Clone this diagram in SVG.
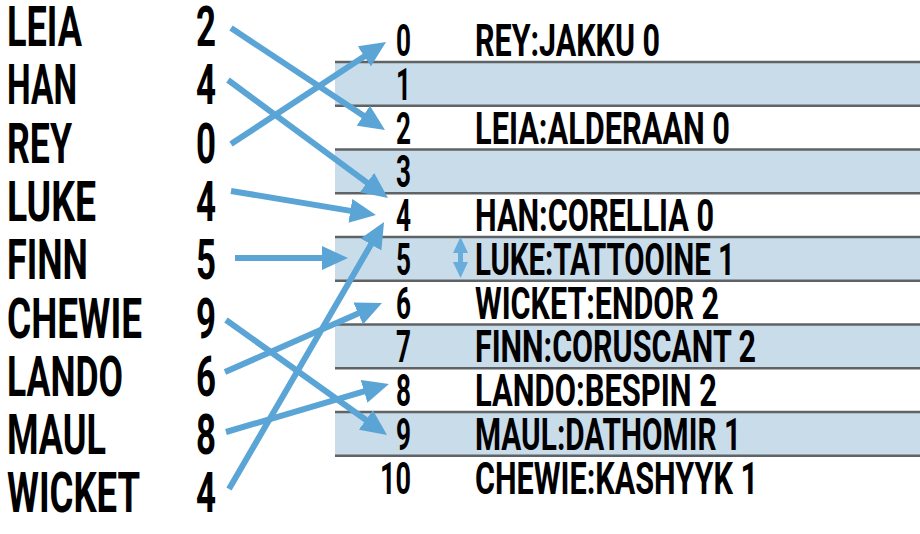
<svg xmlns="http://www.w3.org/2000/svg" width="920" height="534" viewBox="0 0 920 534">
<style>
text{font-family:"Roboto","Liberation Sans",sans-serif;font-weight:700;fill:#000}
.nm{font-size:55px}
.ix{font-size:44px}
.shade{fill:#c9dcea}
.rule{stroke:#606366;stroke-width:2.5}
.con{stroke:#5aa5d6;stroke-width:6;fill:none}
.ah{fill:#5aa5d6}
</style>
<defs>
<marker id="arr" viewBox="0 0 26 24" refX="8" refY="12" markerWidth="26" markerHeight="24" markerUnits="userSpaceOnUse" orient="auto">
<path d="M0,0 L26,12 L0,24 Z" class="ah"/>
</marker>
</defs>
<rect width="920" height="534" fill="#fff"/>

<g id="table">
<rect class="shade" x="335" y="62" width="585" height="43.75"/>
<rect class="shade" x="335" y="149.5" width="585" height="43.75"/>
<rect class="shade" x="335" y="237" width="585" height="43.75"/>
<rect class="shade" x="335" y="324.5" width="585" height="43.75"/>
<rect class="shade" x="335" y="412" width="585" height="43.75"/>
<line class="rule" x1="335" y1="62" x2="920" y2="62"/>
<line class="rule" x1="335" y1="105.75" x2="920" y2="105.75"/>
<line class="rule" x1="335" y1="149.5" x2="920" y2="149.5"/>
<line class="rule" x1="335" y1="193.25" x2="920" y2="193.25"/>
<line class="rule" x1="335" y1="237" x2="920" y2="237"/>
<line class="rule" x1="335" y1="280.75" x2="920" y2="280.75"/>
<line class="rule" x1="335" y1="324.5" x2="920" y2="324.5"/>
<line class="rule" x1="335" y1="368.25" x2="920" y2="368.25"/>
<line class="rule" x1="335" y1="412" x2="920" y2="412"/>
<line class="rule" x1="335" y1="455.75" x2="920" y2="455.75"/>
</g>

<g id="slot0"><text class="ix" x="396" y="56" textLength="15" lengthAdjust="spacingAndGlyphs">0</text><text class="ix" x="475" y="56" textLength="185" lengthAdjust="spacingAndGlyphs">REY:JAKKU 0</text></g>
<g id="slot1"><text class="ix" x="396" y="99.75" textLength="15" lengthAdjust="spacingAndGlyphs">1</text></g>
<g id="slot2"><text class="ix" x="396" y="143.5" textLength="15" lengthAdjust="spacingAndGlyphs">2</text><text class="ix" x="475" y="143.5" textLength="255" lengthAdjust="spacingAndGlyphs">LEIA:ALDERAAN 0</text></g>
<g id="slot3"><text class="ix" x="396" y="187.25" textLength="15" lengthAdjust="spacingAndGlyphs">3</text></g>
<g id="slot4"><text class="ix" x="396" y="231" textLength="15" lengthAdjust="spacingAndGlyphs">4</text><text class="ix" x="475" y="231" textLength="239" lengthAdjust="spacingAndGlyphs">HAN:CORELLIA 0</text></g>
<g id="slot5"><text class="ix" x="396" y="274.75" textLength="15" lengthAdjust="spacingAndGlyphs">5</text><text class="ix" x="475" y="274.75" textLength="260" lengthAdjust="spacingAndGlyphs">LUKE:TATTOOINE 1</text>
<path d="M460.5,237 L468,253 L463,253 L463,262 L468,262 L460.5,278 L453,262 L458,262 L458,253 L453,253 Z" fill="#5ea7da" opacity="0.9"/></g>
<g id="slot6"><text class="ix" x="396" y="318.5" textLength="15" lengthAdjust="spacingAndGlyphs">6</text><text class="ix" x="475" y="318.5" textLength="244" lengthAdjust="spacingAndGlyphs">WICKET:ENDOR 2</text></g>
<g id="slot7"><text class="ix" x="396" y="362.25" textLength="15" lengthAdjust="spacingAndGlyphs">7</text><text class="ix" x="475" y="362.25" textLength="281" lengthAdjust="spacingAndGlyphs">FINN:CORUSCANT 2</text></g>
<g id="slot8"><text class="ix" x="396" y="406" textLength="15" lengthAdjust="spacingAndGlyphs">8</text><text class="ix" x="475" y="406" textLength="242" lengthAdjust="spacingAndGlyphs">LANDO:BESPIN 2</text></g>
<g id="slot9"><text class="ix" x="396" y="449.75" textLength="15" lengthAdjust="spacingAndGlyphs">9</text><text class="ix" x="475" y="449.75" textLength="266" lengthAdjust="spacingAndGlyphs">MAUL:DATHOMIR 1</text></g>
<g id="slot10"><text class="ix" x="380" y="494" textLength="31" lengthAdjust="spacingAndGlyphs">10</text><text class="ix" x="475" y="494" textLength="283" lengthAdjust="spacingAndGlyphs">CHEWIE:KASHYYK 1</text></g>

<g id="leia"><text class="nm" x="7" y="46" textLength="75" lengthAdjust="spacingAndGlyphs">LEIA</text><text class="nm" x="196" y="46" textLength="20" lengthAdjust="spacingAndGlyphs">2</text></g>
<g id="han"><text class="nm" x="7" y="104.3" textLength="70" lengthAdjust="spacingAndGlyphs">HAN</text><text class="nm" x="196" y="104.3" textLength="20" lengthAdjust="spacingAndGlyphs">4</text></g>
<g id="rey"><text class="nm" x="7" y="162.6" textLength="65" lengthAdjust="spacingAndGlyphs">REY</text><text class="nm" x="196" y="162.6" textLength="20" lengthAdjust="spacingAndGlyphs">0</text></g>
<g id="luke"><text class="nm" x="7" y="220.9" textLength="89" lengthAdjust="spacingAndGlyphs">LUKE</text><text class="nm" x="196" y="220.9" textLength="20" lengthAdjust="spacingAndGlyphs">4</text></g>
<g id="finn"><text class="nm" x="7" y="279.2" textLength="81" lengthAdjust="spacingAndGlyphs">FINN</text><text class="nm" x="196" y="279.2" textLength="20" lengthAdjust="spacingAndGlyphs">5</text></g>
<g id="chewie"><text class="nm" x="7" y="337.5" textLength="135" lengthAdjust="spacingAndGlyphs">CHEWIE</text><text class="nm" x="196" y="337.5" textLength="20" lengthAdjust="spacingAndGlyphs">9</text></g>
<g id="lando"><text class="nm" x="7" y="395.8" textLength="116" lengthAdjust="spacingAndGlyphs">LANDO</text><text class="nm" x="196" y="395.8" textLength="20" lengthAdjust="spacingAndGlyphs">6</text></g>
<g id="maul"><text class="nm" x="7" y="454.1" textLength="99" lengthAdjust="spacingAndGlyphs">MAUL</text><text class="nm" x="196" y="454.1" textLength="20" lengthAdjust="spacingAndGlyphs">8</text></g>
<g id="wicket"><text class="nm" x="7" y="512.4" textLength="133" lengthAdjust="spacingAndGlyphs">WICKET</text><text class="nm" x="196" y="512.4" textLength="20" lengthAdjust="spacingAndGlyphs">4</text></g>

<g id="connectors">
<line class="con" marker-end="url(#arr)" x1="231" y1="28" x2="370" y2="120.1"/>
<line class="con" marker-end="url(#arr)" x1="228" y1="80" x2="373.5" y2="187.3"/>
<line class="con" marker-end="url(#arr)" x1="231" y1="144" x2="371" y2="51.9"/>
<line class="con" marker-end="url(#arr)" x1="231" y1="191" x2="358.2" y2="212.1"/>
<line class="con" marker-end="url(#arr)" x1="235" y1="258" x2="330" y2="258"/>
<line class="con" marker-end="url(#arr)" x1="229" y1="489" x2="375" y2="237.6"/>
<line class="con" marker-end="url(#arr)" x1="226" y1="320" x2="372.4" y2="424.5"/>
<line class="con" marker-end="url(#arr)" x1="225" y1="372" x2="365.5" y2="310.2"/>
<line class="con" marker-end="url(#arr)" x1="226" y1="432" x2="371.7" y2="389.1"/>
</g>
</svg>
